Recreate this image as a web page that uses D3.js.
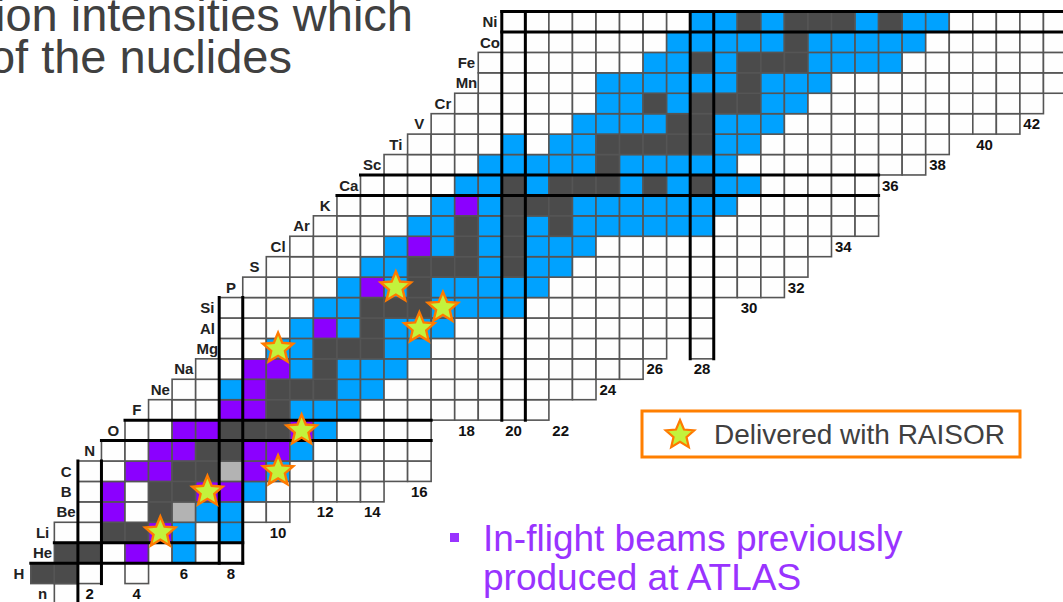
<!DOCTYPE html>
<html>
<head>
<meta charset="utf-8">
<script src="https://cdn.jsdelivr.net/npm/d3@7/dist/d3.min.js"></script>
<style>
  html, body { margin: 0; padding: 0; background: #ffffff; overflow: hidden; }
  svg { display: block; font-family: "Liberation Sans", Arial, Helvetica, sans-serif; }
</style>
</head>
<body>
<svg id="chart" width="1063" height="602"></svg>
<script>
// ---- Chart of the light nuclides (Z = 0 .. 28) ----

// Element symbol for each proton number Z
const elements = ["n","H","He","Li","Be","B","C","N","O","F","Ne","Na","Mg","Al","Si","P",
                  "S","Cl","Ar","K","Ca","Sc","Ti","V","Cr","Mn","Fe","Co","Ni"];

// Lowest neutron number drawn in each row
const firstN = [1,0,1,1,2,2,2,3,4,5,6,7,8,8,8,9,10,11,12,13,14,15,16,17,18,19,19,20,20];

// Status of each nuclide along a row, starting at firstN[Z]
//   W known, D stable, L long-lived, P in-flight beam (previously made), B beam available, . not drawn
const rowStatus = [
  "W",
  "DDW.W",
  "DDWPWBWW",
  "WWDDPBWB",
  "WPWDLBBWW",
  "WPWDDPPBWWWWW",
  "WWPPDDLPBWWWWWW",
  "WWPPDDPPBWWWWW",
  "WWPPDDDPBWWWW",
  "WWWPPDBBB" + "WWWWWWWW",
  "WWBPDDDBB" + "WWWWWWWWW",
  "WWPPBDBBB" + "WWWWWWWWWW",
  "WWBBDDDBB" + "WWWWWWWWWW" + ".W",
  "WWWBPBDBBB" + "WWWWWWWWWWW",
  "WWWWBBDDDBBBB" + "WWWWWWWW",
  "WWWWBPBDBBBBB" + "WWWWWWWWWW",
  "WWWWBBDDDBDBB" + "WWWWWWWWWW",
  "WWWWBPBDBDBBB" + "WWWWWWWWWW",
  "WWWWBBDBDBD" + "BBBBBB" + "WWWWWWW",
  "WWWWBPBDDD" + "BBBBBBB" + "WWWWWW",
  "WWWWBBDBDDDBDBDBB" + "WWWWW",
  "WWWW" + "BBBBB" + "D" + "BBBBB" + "WWWWWWWW",
  "WWWWBWBB" + "DDDDD" + "BB" + "WWWWWWWW",
  "WWWWWW" + "BBBB" + "DD" + "BBB" + "WWWWWWWWWW",
  "WWWWWW" + "BBDBDDDBB" + "WWWWWWWWWW",
  "WWWWW" + "BBBBBB" + "D" + "BBB" + "WWWWWWWWWWW",
  "WWWWWWW" + "BBDBDDD" + "BBBB" + "WWWWWWWW",
  "WWWWWWW" + "BBBBB" + "D" + "BBBBB" + "WWWWWWW",
  "WWWWWWWW" + "BBDBDDDBDBB" + "WWWWWW"
];

// Beams delivered with RAISOR, as [Z, N]
const raisorZ = [3, 5, 6, 8, 12, 13, 14, 15];
const raisorN = [5, 7, 10, 11, 10, 16, 17, 15];

// Magic numbers, framed by heavy lines
const magicNumbers = [2, 8, 20, 28];

// Neutron-number tick labels and the row each one sits in
const neutronTicks   = [2, 4, 6, 8, 10, 12, 14, 16, 18, 20, 22, 24, 26, 28, 30, 32, 34, 36, 38, 40, 42];
const neutronTickRow = [0, 0, 1, 1, 3,  4,  4,  5,  8,  8,  8,  10, 11, 11, 14, 15, 17, 20, 21, 22, 23];

// Slide text
const headingLines = ["tion intensities which", "of the nuclides"];
const bulletLines = ["In-flight beams previously", "produced at ATLAS"];
const legendLabel = "Delivered with RAISOR";

// ---- styling ----
const statusColor = { W: "#fefefe", D: "#4b4b4b", L: "#b3b3b3", P: "#8b00ff", B: "#00a2ff" };
const gridStroke = "#555555";
const purpleText = "#9933ff";
const greyText = "#404040";

const svg = d3.select("#chart");

// N -> left edge of column, Z -> bottom edge of row
const x = d3.scaleLinear().domain([0, 44]).range([30.8, 30.8 + 44 * 23.55]);
const y = d3.scaleLinear().domain([0, 29]).range([604, 604 - 29 * 20.43]);

// Build the nuclide list
const nuclides = [];
rowStatus.forEach((row, Z) => {
  row.split("").forEach((s, i) => {
    if (s !== ".") nuclides.push({ Z, N: firstN[Z] + i, s });
  });
});

// Extent helpers
const rowExtent = Z => d3.extent(nuclides.filter(d => d.Z === Z), d => d.N);
const colExtent = N => d3.extent(nuclides.filter(d => d.N === N), d => d.Z);

// ---- heading text ----
svg.append("g")
  .selectAll("text")
  .data(headingLines)
  .join("text")
  .attr("x", (d, i) => i === 0 ? 413 : 292)
  .attr("y", (d, i) => 31 + i * 42)
  .attr("text-anchor", "end")
  .attr("font-size", 47)
  .attr("fill", greyText)
  .text(d => d);

// ---- cells ----
const cells = svg.append("g");
cells.selectAll("rect")
  .data(nuclides)
  .join("rect")
  .attr("x", d => x(d.N))
  .attr("y", d => y(d.Z + 1))
  .attr("width", d => x(d.N + 1) - x(d.N))
  .attr("height", d => y(d.Z) - y(d.Z + 1))
  .attr("fill", d => statusColor[d.s])
  .attr("stroke", gridStroke)
  .attr("stroke-width", 1.6);

// ---- magic-number frames ----
const magic = svg.append("g")
  .attr("stroke", "#000")
  .attr("stroke-width", 3)
  .attr("stroke-linecap", "square");

magicNumbers.forEach(m => {
  // row Z = m
  const own = rowExtent(m);
  const below = rowExtent(m - 1);
  magic.append("line")
    .attr("x1", x(own[0])).attr("x2", x(own[1] + 1))
    .attr("y1", y(m + 1)).attr("y2", y(m + 1));
  magic.append("line")
    .attr("x1", x(Math.min(own[0], below[0]))).attr("x2", x(Math.max(own[1], below[1]) + 1))
    .attr("y1", y(m)).attr("y2", y(m));
  // column N = m
  const col = colExtent(m);
  const left = colExtent(m - 1);
  magic.append("line")
    .attr("x1", x(m)).attr("x2", x(m))
    .attr("y1", y(Math.max(col[1], left[1]) + 1)).attr("y2", y(Math.min(col[0], left[0])));
  magic.append("line")
    .attr("x1", x(m + 1)).attr("x2", x(m + 1))
    .attr("y1", y(col[1] + 1)).attr("y2", y(col[0]));
});

// ---- stars ----
const starPath = (R, r) => d3.lineRadial()
  .angle(d => d * Math.PI / 5)
  .radius(d => d % 2 ? r : R)
  .curve(d3.curveLinearClosed)(d3.range(10));

const starFill = "#c3f23c";
const starStroke = "#ff7a00";

svg.append("g")
  .selectAll("path")
  .data(raisorZ.map((Z, i) => ({ Z, N: raisorN[i] })))
  .join("path")
  .attr("transform", d => `translate(${(x(d.N) + x(d.N + 1)) / 2},${(y(d.Z) + y(d.Z + 1)) / 2})`)
  .attr("d", starPath(16, 7.2))
  .attr("fill", starFill)
  .attr("stroke", starStroke)
  .attr("stroke-width", 2.4)
  .attr("stroke-linejoin", "miter");

// ---- element labels (centred in the column left of each row's first cell) ----
svg.append("g")
  .selectAll("text")
  .data(elements)
  .join("text")
  .attr("x", (d, Z) => (x(firstN[Z] - 1) + x(firstN[Z])) / 2)
  .attr("y", (d, Z) => (y(Z) + y(Z + 1)) / 2 + 5.4)
  .attr("text-anchor", "middle")
  .attr("font-size", 15)
  .attr("font-weight", "bold")
  .attr("fill", "#222")
  .text(d => d);

// ---- neutron-number labels ----
svg.append("g")
  .selectAll("text")
  .data(neutronTicks)
  .join("text")
  .attr("x", d => (x(d) + x(d + 1)) / 2)
  .attr("y", (d, i) => (y(neutronTickRow[i]) + y(neutronTickRow[i] + 1)) / 2 + 5.4)
  .attr("text-anchor", "middle")
  .attr("font-size", 15)
  .attr("font-weight", "bold")
  .attr("fill", "#111")
  .text(d => d);

// ---- legend ----
const legend = svg.append("g").attr("transform", "translate(642,411)");
legend.append("rect")
  .attr("width", 378).attr("height", 46)
  .attr("fill", "#fff")
  .attr("stroke", "#ff7f00")
  .attr("stroke-width", 3);
legend.append("path")
  .attr("transform", "translate(38,24)")
  .attr("d", starPath(15, 6.8))
  .attr("fill", starFill)
  .attr("stroke", starStroke)
  .attr("stroke-width", 2.2);
legend.append("text")
  .attr("x", 72).attr("y", 33)
  .attr("font-size", 28)
  .attr("fill", greyText)
  .text(legendLabel);

// ---- bullet note ----
const note = svg.append("g");
note.append("rect")
  .attr("x", 450).attr("y", 533).attr("width", 9).attr("height", 9)
  .attr("fill", purpleText);
note.selectAll("text")
  .data(bulletLines)
  .join("text")
  .attr("x", 483)
  .attr("y", (d, i) => 551 + i * 39)
  .attr("font-size", 37)
  .attr("fill", purpleText)
  .text(d => d);
</script>
</body>
</html>
